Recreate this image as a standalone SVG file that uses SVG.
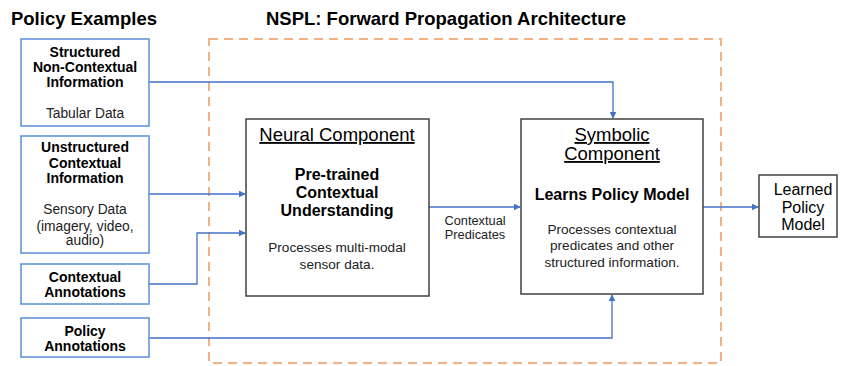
<svg xmlns="http://www.w3.org/2000/svg" width="841" height="366" viewBox="0 0 841 366">
  <defs>
    <marker id="arrow" viewBox="0 0 10 10" refX="9" refY="5" markerWidth="7" markerHeight="7" markerUnits="userSpaceOnUse" orient="auto">
      <path d="M0,0 L10,5 L0,10 z" fill="#4472c4"/>
    </marker>
    <style>
      text { font-family: "Liberation Sans", Arial, sans-serif; fill: #000; text-anchor: middle; }
      .title { font-size: 18.5px; font-weight: bold; }
      .src { fill: #fff; stroke: #5b8fd6; stroke-width: 1.5; }
      .comp { fill: #fff; stroke: #404040; stroke-width: 1.5; }
      .b { font-size: 14px; font-weight: bold; }
      .n { font-size: 13.8px; fill: #222; }
      .head { font-size: 18.5px; text-decoration: underline; }
      .sub { font-size: 16px; font-weight: bold; }
      .desc { font-size: 13.6px; fill: #222; }
      .pred { font-size: 12.8px; fill: #222; }
      .out { font-size: 16px; }
      .conn { fill: none; stroke: #4472c4; stroke-width: 1.3; }
      .frame { fill: none; stroke: #f4b183; stroke-width: 2; stroke-dasharray: 9 6; }
    </style>
  </defs>

  <text class="title" x="84" y="25">Policy Examples</text>
  <text class="title" x="446" y="25">NSPL: Forward Propagation Architecture</text>

  <rect class="frame" x="209" y="39" width="512" height="324"/>

  <g id="connectors">
    <polyline class="conn" points="149,82 613,82 613,118" marker-end="url(#arrow)"/>
    <polyline class="conn" points="149,194 245,194" marker-end="url(#arrow)"/>
    <polyline class="conn" points="149,284 197,284 197,233 245,233" marker-end="url(#arrow)"/>
    <polyline class="conn" points="149,338 612,338 612,295" marker-end="url(#arrow)"/>
    <polyline class="conn" points="429,207 520,207" marker-end="url(#arrow)"/>
    <polyline class="conn" points="703,207 758,207" marker-end="url(#arrow)"/>
    <text class="pred" x="475" y="224.5">Contextual</text>
    <text class="pred" x="475" y="238.5">Predicates</text>
  </g>

  <g id="structured">
    <rect class="src" x="21" y="39" width="128" height="87"/>
    <text class="b" x="85" y="57">Structured</text>
    <text class="b" x="85" y="72">Non-Contextual</text>
    <text class="b" x="85" y="87">Information</text>
    <text class="n" x="85" y="118">Tabular Data</text>
  </g>

  <g id="unstructured">
    <rect class="src" x="21" y="136" width="128" height="117"/>
    <text class="b" x="85" y="152">Unstructured</text>
    <text class="b" x="85" y="168">Contextual</text>
    <text class="b" x="85" y="183">Information</text>
    <text class="n" x="85" y="214">Sensory Data</text>
    <text class="n" x="85" y="231">(imagery, video,</text>
    <text class="n" x="85" y="245">audio)</text>
  </g>

  <g id="contextual-annotations">
    <rect class="src" x="21" y="264" width="128" height="40"/>
    <text class="b" x="85" y="282">Contextual</text>
    <text class="b" x="85" y="297">Annotations</text>
  </g>

  <g id="policy-annotations">
    <rect class="src" x="21" y="318" width="128" height="39"/>
    <text class="b" x="85" y="336">Policy</text>
    <text class="b" x="85" y="351">Annotations</text>
  </g>

  <g id="neural">
    <rect class="comp" x="246" y="119" width="183" height="177"/>
    <text class="head" x="337" y="141">Neural Component</text>
    <text class="sub" x="337" y="180">Pre-trained</text>
    <text class="sub" x="337" y="198">Contextual</text>
    <text class="sub" x="337" y="216">Understanding</text>
    <text class="desc" x="337" y="252">Processes multi-modal</text>
    <text class="desc" x="337" y="269">sensor data.</text>
  </g>

  <g id="symbolic">
    <rect class="comp" x="521" y="119" width="182" height="175"/>
    <text class="head" x="612" y="141">Symbolic</text>
    <text class="head" x="612" y="160">Component</text>
    <text class="sub" x="612" y="200">Learns Policy Model</text>
    <text class="desc" x="612" y="234">Processes contextual</text>
    <text class="desc" x="612" y="250">predicates and other</text>
    <text class="desc" x="612" y="267">structured information.</text>
  </g>

  <g id="learned">
    <rect class="comp" x="759" y="175" width="78" height="62"/>
    <text class="out" x="803" y="195">Learned</text>
    <text class="out" x="803" y="213">Policy</text>
    <text class="out" x="803" y="230">Model</text>
  </g>
</svg>
